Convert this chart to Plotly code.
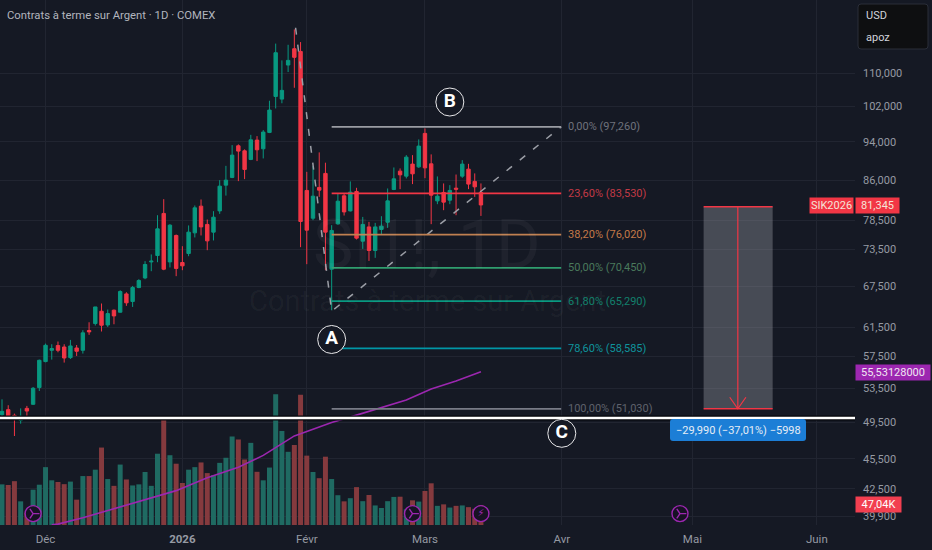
import math
import plotly.graph_objects as go

opens = [50345,50930,50275,49700,51080,51560,53570,56850,58340,58970,58780,57370,58650,58340,61040,62020,63790,61820,63940,63650,
66370,65230,67340,68840,71410,72460,79780,71410,75860,71310,72800,76320,81120,77800,76440,80250,85120,86630,93130,92070,
90270,94350,92500,96030,104260,103630,112030,116290,115570,84090,78920,84670,87430,70230,77910,83060,80250,83900,74880,77360,
73300,76910,78200,84280,87890,86890,89310,88750,95810,89370,82110,83710,82240,84530,86890,88290,85850,83710]
highs = [52150,51450,50470,51080,51370,53640,57110,59240,59150,59520,59150,59740,59050,61080,62200,64420,64930,64040,64040,66930,
66620,67590,68640,71530,72640,79460,82430,77850,76030,74020,77620,81250,82370,78680,80200,86100,88960,93280,93430,92370,
95500,95220,96540,103240,117660,113230,117340,121540,118070,87750,88900,91740,89600,77670,83510,83510,85850,84600,79150,78260,
78080,79280,84470,88630,88430,91170,91170,94500,96910,91320,86830,85450,85120,87210,90130,89370,87430,85450]
lows = [50160,49895,47950,49325,50200,51480,53155,56760,57110,58075,56720,57190,57590,57900,60440,61740,60900,61540,61920,63590,
64580,64420,67240,68640,69910,71360,70070,70510,69120,70070,72350,75520,75860,73350,75000,79700,83110,86490,85900,86300,
90130,89930,90480,95880,101440,102650,110250,106350,73860,71040,78560,82860,70070,63940,77740,79400,80140,75170,73570,71570,
72080,76090,77190,84150,84340,86430,85320,88550,86490,77850,81490,80380,81490,79460,86550,84340,82860,79330]
closes = [50735,50080,49815,50160,50770,53485,57020,59010,58570,58340,57320,58920,58210,60710,60850,64420,61780,63450,63110,66730,
65030,67340,68430,70990,71530,77020,70230,77670,70350,70770,76440,80810,77360,74930,79100,84920,86100,91170,92010,88230,
94420,92290,96100,101060,115230,105720,113230,114020,78330,76790,83000,84150,76440,76740,82050,80060,83770,75400,77800,73300,
77360,77490,82110,86360,87150,90750,87350,93070,88550,83190,83000,81870,84090,84340,89310,85320,84790,81345]
volumes_k = [95.5,94,103,55.6,29,83,94.7,136,105,101,96,102,59.5,115,115,130,182,108,92,142,
107,93,95.5,124.5,92,167.5,248,164,144,98.7,130,136,147,122,117,146,158,208,201,154,
193,125,105,135,307,221,172,188,306,163,124.5,110,160.5,108,70,55.6,63,89,56,70.5,
46,40,56,66,66.5,37,58,55,80,98,45,48.5,41,45,46,42,38,47.04]

ma_index = [8,9,13,18,23,28,33,38,42,46,47,48,50,53,57,61,65,69,73,77]
ma_values = [39140,39200,39770,40600,41430,42320,43580,44650,45870,47470,47960,48190,48660,49460,50300,51190,52060,53390,54390,55531]

price_ticks = [110000,102000,94000,86000,78500,73500,67500,61500,57500,53500,49500,45500,42500,39900]
price_labels = ["110,000","102,000","94,000","86,000","78,500","73,500","67,500","61,500","57,500","53,500","49,500","45,500","42,500","39,900"]
date_ticks = [7,29,49,68,90,111,131]
date_labels = ["Déc","<b>2026</b>","Févr","Mars","Avr","Mai","Juin"]

fib_prices = [97260,83530,76020,70450,65290,58585,51030]
fib_labels = ["0,00% (97,260)","23,60% (83,530)","38,20% (76,020)","50,00% (70,450)","61,80% (65,290)","78,60% (58,585)","100,00% (51,030)"]
fib_line_colors = ["#9a9ca3","#F23645","#c08050","#2f9e6e","#089981","#0097a7","#787b86"]
fib_text_colors = ["#6f727c","#c23a46","#c47a48","#4a7a5c","#12806c","#0f939c","#5f626c"]
fib_start, fib_end = 53, 89.9

wave_index = [47.2,53,89.9]
wave_prices = [122000,63800,97260]
support_price = 49965
target_top, target_bottom = 81020, 51030
target_x0, target_x1, target_mid = 112.8, 123.9, 118.3
arrow_x = [117.0,118.3,119.6]
arrow_y = [52400,51030,52400]
wave_names = ["A","B","C"]
wave_x = [53,72,90]
wave_y = [59800,102940,48250]
event_x = [5,66,109]
event_y = 40150
flash_x = [77]

BG = "#151924"
GRID = "#212531"
RED = "#F23645"
GREEN = "#089981"
PURPLE = "#9c27b0"
TXT = "#959aa3"
FONT = "Roboto"
W, H = 855.0, 525.0
XMIN = -2.0/6.22
XMAX = (855-2.0)/6.22
PMAX = 130000
PMIN = 39120

vol_colors = ["#1f6a62" if c >= o else "#853a3e" for o, c in zip(opens, closes)]
idx = list(range(len(opens)))

fig = go.Figure()
fig.add_bar(x=idx, y=volumes_k, marker=dict(color=vol_colors, line_width=0), width=0.8, yaxis="y", hoverinfo="skip", showlegend=False)
fig.add_trace(go.Scatter(x=[target_x0,target_x1,target_x1,target_x0,target_x0],
    y=[target_top,target_top,target_bottom,target_bottom,target_top], mode="lines", fill="toself",
    fillcolor="rgba(160,163,172,0.36)", line=dict(width=0), yaxis="y2", hoverinfo="skip", showlegend=False))
fig.add_trace(go.Scatter(x=wave_index, y=wave_prices, mode="lines", line=dict(color="#9b9ea6", width=1.5, dash="7px 10px"),
    yaxis="y2", hoverinfo="skip", showlegend=False))
fig.add_trace(go.Candlestick(x=idx, open=opens, high=highs, low=lows, close=closes, yaxis="y2",
    increasing=dict(line=dict(color=GREEN, width=1), fillcolor=GREEN),
    decreasing=dict(line=dict(color=RED, width=1), fillcolor=RED),
    whiskerwidth=0, hoverinfo="skip", showlegend=False))
fig.add_trace(go.Scatter(x=ma_index, y=ma_values, mode="lines", line=dict(color=PURPLE, width=1.6), yaxis="y2", hoverinfo="skip", showlegend=False))
for p, c in zip(fib_prices, fib_line_colors):
    fig.add_trace(go.Scatter(x=[fib_start, fib_end], y=[p, p], mode="lines", line=dict(color=c, width=1.8), yaxis="y2", hoverinfo="skip", showlegend=False))
fig.add_trace(go.Scatter(x=[XMIN, XMAX], y=[support_price]*2, mode="lines", line=dict(color="#05060a", width=5), yaxis="y2", hoverinfo="skip", showlegend=False))
fig.add_trace(go.Scatter(x=[XMIN, XMAX], y=[support_price]*2, mode="lines", line=dict(color="#ffffff", width=2.6), yaxis="y2", hoverinfo="skip", showlegend=False))
for p in (target_top, target_bottom):
    fig.add_trace(go.Scatter(x=[target_x0, target_x1], y=[p, p], mode="lines", line=dict(color=RED, width=1.5), yaxis="y2", hoverinfo="skip", showlegend=False))
fig.add_trace(go.Scatter(x=[target_mid, target_mid], y=[target_top, target_bottom], mode="lines", line=dict(color=RED, width=1.2), yaxis="y2", hoverinfo="skip", showlegend=False))
fig.add_trace(go.Scatter(x=arrow_x, y=arrow_y, mode="lines", line=dict(color=RED, width=1.2), yaxis="y2", hoverinfo="skip", showlegend=False))
fig.add_trace(go.Scatter(x=wave_x, y=wave_y, mode="markers+text", text=wave_names, textposition="middle center",
    textfont=dict(family=FONT, size=19, color="#ffffff", weight=700),
    marker=dict(size=28, color=BG, line=dict(color="#e8e8ea", width=1)), yaxis="y2", hoverinfo="skip", showlegend=False))
fig.add_trace(go.Scatter(x=event_x, y=[event_y]*len(event_x), mode="markers",
    marker=dict(size=16, color="#171224", line=dict(color=PURPLE, width=1.4)), yaxis="y2", hoverinfo="skip", showlegend=False))
fig.add_trace(go.Scatter(x=event_x, y=[event_y]*len(event_x), mode="markers",
    marker=dict(size=8, symbol="y-right", color=PURPLE, line=dict(color=PURPLE, width=1.4)), yaxis="y2", hoverinfo="skip", showlegend=False))
fig.add_trace(go.Scatter(x=flash_x, y=[event_y], mode="markers+text", text=["⚡"], textposition="middle center",
    textfont=dict(family="DejaVu Sans", size=10, color=PURPLE),
    marker=dict(size=16, color="#171224", line=dict(color=PURPLE, width=1.4)), yaxis="y2", hoverinfo="skip", showlegend=False))

def px(x): return x / W
def py(y): return 1 - y / H
ann = []
def label(x, y, text, color, size=11, anchor="left", **kw):
    ann.append(dict(x=px(x), y=py(y), xref="paper", yref="paper", text=text, showarrow=False, xanchor=anchor,
                    yanchor="middle", font=dict(family=FONT, size=size, color=color), **kw))

label(5, 15.5, "Contrats à terme sur Argent · 1D · COMEX", "#b2b5be", 11.3)
label(427, 245, "SI1!, 1D", "rgba(255,255,255,0.045)", 68, anchor="center")
label(427, 301, "Contrats à terme sur Argent", "rgba(255,255,255,0.045)", 29, anchor="center")
for p, t, c in zip(fib_prices, fib_labels, fib_text_colors):
    ann.append(dict(x=90.6, y=math.log10(p), xref="x", yref="y2", text=t, showarrow=False, xanchor="left", yanchor="middle",
                    font=dict(family=FONT, size=11, color=c)))
label(738, 430, "−29,990 (−37,01%) −5998", "#e6edf5", 11, anchor="center")
label(831.5, 205.5, "SIK2026", "#f5e4d8", 11, anchor="center", bgcolor=RED, width=41, height=13, borderpad=1)
label(855, 205.5, "81,345", "#f5e4d8", 11, bgcolor=RED, width=41, height=13, borderpad=1, align="center")
label(855, 372.5, "55,53128000", "#f0e6f2", 11, bgcolor=PURPLE, width=72, height=13, borderpad=1, align="center")
label(855, 504.5, "47,04K", "#ffffff", 11, bgcolor="#f23f50", width=43, height=13, borderpad=1, align="center")
label(864, 15, "USD", "#d1d4dc", 11)
label(864, 37, "apoz", "#d1d4dc", 11)

def rrect(x0, y0, x1, y1, r=2):
    X0, X1 = px(x0), px(x1); Y0, Y1 = py(y0), py(y1)
    rx, ry = r / W, r / H
    return (f"M {X0+rx} {Y0} L {X1-rx} {Y0} Q {X1} {Y0} {X1} {Y0-ry} L {X1} {Y1+ry} Q {X1} {Y1} {X1-rx} {Y1} "
            f"L {X0+rx} {Y1} Q {X0} {Y1} {X0} {Y1+ry} L {X0} {Y0-ry} Q {X0} {Y0} {X0+rx} {Y0} Z")

shapes = [
    dict(type="path", path=rrect(858, 4, 928, 49, 3), xref="paper", yref="paper", fillcolor="#0e0f11", line=dict(color="#2a2e39", width=1), layer="above"),
    dict(type="path", path=rrect(670, 419, 806, 441, 3), xref="paper", yref="paper", fillcolor="#1c7ed6", line=dict(width=0), layer="above"),
]

fig.update_layout(
    width=932, height=550, autosize=False, margin=dict(l=0, r=77, t=0, b=25),
    paper_bgcolor=BG, plot_bgcolor=BG, showlegend=False, bargap=0.2, boxgap=0.22,
    font=dict(family=FONT, size=11, color=TXT),
    xaxis=dict(range=[XMIN, XMAX], tickmode="array", tickvals=date_ticks, ticktext=date_labels, showgrid=True, gridcolor=GRID,
               gridwidth=1, zeroline=False, showline=False, ticks="", rangeslider=dict(visible=False),
               tickfont=dict(family=FONT, size=11.5, color=TXT), ticklabelstandoff=5),
    yaxis=dict(range=[0, 525*2.35], visible=False, fixedrange=True),
    yaxis2=dict(type="log", range=[math.log10(PMIN), math.log10(PMAX)], overlaying="y", side="right", anchor="x",
                tickmode="array", tickvals=price_ticks, ticktext=price_labels, showgrid=True, gridcolor=GRID, gridwidth=1,
                zeroline=False, showline=False, ticks="", tickfont=dict(family=FONT, size=11, color=TXT), ticklabelstandoff=7),
    annotations=ann, shapes=shapes,
)
fig.write_html("out.html", config={"displayModeBar": False},
               post_script="document.body.style.margin='0';document.documentElement.style.background='#151924';document.documentElement.style.overflow='hidden';")
